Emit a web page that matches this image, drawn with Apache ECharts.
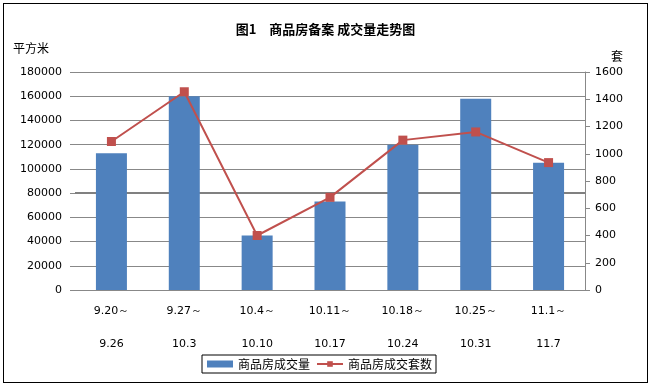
<!DOCTYPE html>
<html><head><meta charset="utf-8">
<script src="https://cdn.jsdelivr.net/npm/echarts@6/dist/echarts.min.js"></script>
<style>html,body{margin:0;padding:0;background:#fff}
#frame{position:absolute;left:3px;top:3px;width:643px;height:378px;border:1px solid #000;}
#c{position:absolute;left:0;top:0;width:651px;height:386px}</style>
</head><body><div id="frame"></div><div id="c"></div>
<script>
const catStart = ['9.20～','9.27～','10.4～','10.11～','10.18～','10.25～','11.1～'];
const catEnd = ['9.26','10.3','10.10','10.17','10.24','10.31','11.7'];
const area = [113000, 160000, 45000, 73000, 120000, 158000, 105000];
const units = [1090, 1455, 400, 680, 1100, 1160, 935];
const leftTicks = {min:0, max:180000, interval:20000};
const rightTicks = {min:0, max:1600, interval:200};

const categories = catStart.map((s,i)=>s+'\n'+catEnd[i]);
const chart = echarts.init(document.getElementById('c'), null, {renderer:'canvas'});
const font = 'DejaVu Sans';
const clear = 'rgba(0,0,0,0)';
chart.setOption({
  animation:false,
  textStyle:{fontFamily:font},
  title:{text:'图1　商品房备案 成交量走势图', left:'center', top:18,
    textStyle:{fontFamily:'Noto Sans CJK SC', fontSize:13, fontWeight:'bold', color:'#000'}},
  graphic:[
    {type:'text', left:13, top:42, style:{text:'平方米', font:'12px "Noto Sans CJK SC"', fill:'#000'}},
    {type:'text', left:611, top:50, style:{text:'套', font:'12px "Noto Sans CJK SC"', fill:'#000'}}
  ],
  legend:{left:202, top:355, orient:'horizontal', padding:[3,4,3,5], itemGap:6,
    borderColor:'#000', borderWidth:1, itemWidth:26, itemHeight:7,
    textStyle:{fontFamily:'Noto Sans CJK SC', fontSize:12, color:'#000'},
    data:[{name:'商品房成交量', icon:'rect'}, {name:'商品房成交套数'}]},
  grid:{left:75, right:66, top:72, bottom:96},
  xAxis:{type:'category', data:categories,
    axisLine:{lineStyle:{color:'#888', width:1}}, axisTick:{show:false},
    axisLabel:{color:'#000', fontSize:11, fontFamily:font, lineHeight:33, margin:5, interval:0}},
  yAxis:[
    {type:'value', min:leftTicks.min, max:leftTicks.max, interval:leftTicks.interval,
     axisLine:{show:false}, axisTick:{show:true, length:5, lineStyle:{color:'#888'}},
     splitLine:{lineStyle:{color:'#888', width:1}},
     axisLabel:{color:'#000', fontSize:11, fontFamily:font, margin:13, formatter:v=>String(v)}},
    {type:'value', min:rightTicks.min, max:rightTicks.max, interval:rightTicks.interval,
     axisLine:{show:true, lineStyle:{color:'#888'}}, axisTick:{show:true, length:5, lineStyle:{color:'#888'}},
     splitLine:{show:false},
     axisLabel:{color:'#000', fontSize:11, fontFamily:font, margin:10, formatter:v=>String(v)}},
    {type:'value', position:'left', min:0, max:180000, interval:80000,
     axisLine:{show:false}, axisTick:{show:false}, axisLabel:{show:false},
     splitLine:{show:true, lineStyle:{color:[clear,'#808080',clear,clear], width:2}}}
  ],
  series:[
    {name:'商品房成交量', type:'bar', data:area, barWidth:31, yAxisIndex:0,
     itemStyle:{color:'#4F81BD'}},
    {name:'商品房成交套数', type:'line', data:units, yAxisIndex:1,
     symbol:'rect', symbolSize:9, lineStyle:{color:'#C0504D', width:2},
     itemStyle:{color:'#C0504D'}}
  ]
});
</script></body></html>
